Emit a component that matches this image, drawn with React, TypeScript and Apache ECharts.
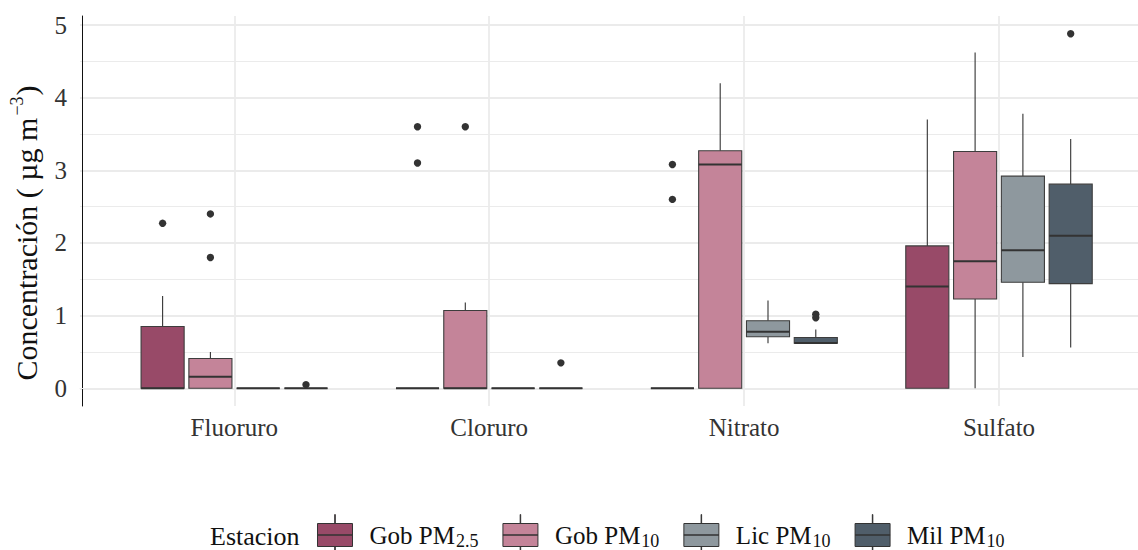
import React, { useEffect, useRef } from 'react';
import * as echarts from 'echarts';

// Anions on the x axis
const categories = ['Fluoruro', 'Cloruro', 'Nitrato', 'Sulfato'];

// Monitoring stations (label + subscript) and their fill colours
const stationBase = ['Gob PM', 'Gob PM', 'Lic PM', 'Mil PM'];
const stationSub = ['2.5', '10', '10', '10'];
const stationColors = ['#984A68', '#C48499', '#8E989E', '#505E6A'];

// Box statistics per anion: [lower whisker, Q1, median, Q3, upper whisker]
const gobPM25Stats = [
  [0, 0, 0, 0.85, 1.27],
  [0, 0, 0, 0, 0],
  [0, 0, 0, 0, 0],
  [0, 0, 1.4, 1.96, 3.7],
];
const gobPM25Outliers = [[2.27], [3.6, 3.1], [3.08, 2.6], []];

const gobPM10Stats = [
  [0, 0, 0.16, 0.41, 0.5],
  [0, 0, 0, 1.07, 1.18],
  [0, 0, 3.08, 3.27, 4.2],
  [0, 1.23, 1.75, 3.26, 4.62],
];
const gobPM10Outliers = [[2.4, 1.8], [3.6], [], []];

const licPM10Stats = [
  [0, 0, 0, 0, 0],
  [0, 0, 0, 0, 0],
  [0.62, 0.71, 0.78, 0.93, 1.21],
  [0.43, 1.46, 1.9, 2.92, 3.78],
];
const licPM10Outliers = [[], [], [], []];

const milPM10Stats = [
  [0, 0, 0, 0, 0],
  [0, 0, 0, 0, 0],
  [0.62, 0.62, 0.625, 0.7, 0.81],
  [0.56, 1.44, 2.1, 2.81, 3.43],
];
const milPM10Outliers = [[0.05], [0.35], [1.02, 0.97], [4.88]];

// y axis ticks
const yTickMin = 0;
const yTickMax = 5;
const yTickStep = 1;

const stationStats = [gobPM25Stats, gobPM10Stats, licPM10Stats, milPM10Stats];
const stationOutliers = [gobPM25Outliers, gobPM10Outliers, licPM10Outliers, milPM10Outliers];

const FONT = "'Liberation Serif', 'Times New Roman', serif";
const W = 1138;
const H = 550;

// panel geometry (pixels)
const AXIS_X = 80;
const PANEL_TOP = 16;
const PANEL_BOTTOM = 406;
const Y_AT_MIN = 388.3;
const Y_AT_MAX = 25;
const FIRST_CAT_X = 232.3;
const LAST_CAT_X = 999;
const PX_PER_UNIT = (Y_AT_MIN - Y_AT_MAX) / (yTickMax - yTickMin);

// dodge layout in category units
const SLOT = 0.1875;
const BOX = 0.169;

const LEGEND_ICON =
  'path://M17.25,0H17.75V9H17.25Z M0,9H35V20.5H0Z M0,20.5H35V32H0Z M17.25,32H17.75V41H17.25Z';

function makeRenderItem(seriesIdx: number) {
  return (params: any, api: any) => {
    const cat = api.value(0);
    const band = api.size([1, 0])[0];
    const cx = api.coord([cat, 0])[0] + (seriesIdx - 1.5) * SLOT * band;
    const half = (BOX * band) / 2;
    const yOf = (v: number) => api.coord([cat, v])[1];
    const lo = yOf(api.value(1));
    const q1 = yOf(api.value(2));
    const med = yOf(api.value(3));
    const q3 = yOf(api.value(4));
    const hi = yOf(api.value(5));
    const stroke = '#333333';
    const children: any[] = [
      {
        type: 'line',
        shape: { x1: cx, y1: q3, x2: cx, y2: hi },
        style: { stroke, lineWidth: 1.1 },
      },
      {
        type: 'line',
        shape: { x1: cx, y1: q1, x2: cx, y2: lo },
        style: { stroke, lineWidth: 1.1 },
      },
      {
        type: 'rect',
        shape: { x: cx - half, y: q3, width: half * 2, height: q1 - q3 },
        style: { fill: stationColors[seriesIdx], stroke: '#3d3d3d', lineWidth: 1.1 },
      },
      {
        type: 'line',
        shape: { x1: cx - half, y1: med, x2: cx + half, y2: med },
        style: { stroke, lineWidth: 2 },
      },
    ];
    const outs = stationOutliers[seriesIdx][params.dataIndex] || [];
    outs.forEach((v: number) => {
      children.push({
        type: 'circle',
        shape: { cx, cy: yOf(v), r: 3.7 },
        style: { fill: '#333333' },
      });
    });
    return { type: 'group', children };
  };
}

export default function App() {
  const ref = useRef<HTMLDivElement>(null);

  useEffect(() => {
    if (!ref.current) return;
    const chart = echarts.init(ref.current, null, { renderer: 'svg' });

    const dataYMin = yTickMin - (PANEL_BOTTOM - Y_AT_MIN) / PX_PER_UNIT;
    const dataYMax = yTickMax + (Y_AT_MAX - PANEL_TOP) / PX_PER_UNIT;

    const series = stationStats.map((stats, s) => ({
      type: 'custom',
      name: stationBase[s] + stationSub[s],
      xAxisIndex: 1,
      yAxisIndex: 1,
      itemStyle: { color: stationColors[s] },
      encode: { x: 0, y: [1, 2, 3, 4, 5] },
      renderItem: makeRenderItem(s),
      data: stats.map((st, i) => [i, ...st]),
    }));

    const option: any = {
      animation: false,
      color: stationColors,
      grid: [
        // background panel: y labels and horizontal grid lines
        {
          left: AXIS_X,
          right: 0,
          top: Y_AT_MAX,
          bottom: H - Y_AT_MIN,
        },
        // data panel: spans first to last category
        {
          left: FIRST_CAT_X,
          right: W - LAST_CAT_X,
          top: PANEL_TOP,
          bottom: H - PANEL_BOTTOM,
        },
      ],
      xAxis: [
        {
          type: 'value',
          gridIndex: 0,
          min: 0,
          max: 1,
          position: 'bottom',
          offset: PANEL_BOTTOM - Y_AT_MIN,
          axisLine: { show: true, lineStyle: { color: '#EBEBEB', width: 1 } },
          axisTick: { show: false },
          axisLabel: { show: false },
          splitLine: { show: false },
        },
        {
          type: 'category',
          gridIndex: 1,
          data: categories,
          boundaryGap: false,
          axisLine: { show: false },
          axisTick: { show: false },
          axisLabel: {
            interval: 0,
            margin: 9,
            fontFamily: FONT,
            fontSize: 25,
            color: '#333333',
          },
          splitLine: {
            show: true,
            interval: 0,
            lineStyle: { color: '#EBEBEB', width: 1.8 },
          },
        },
      ],
      yAxis: [
        {
          type: 'value',
          gridIndex: 0,
          min: yTickMin,
          max: yTickMax,
          interval: yTickStep,
          axisLine: { show: false },
          axisTick: { show: false },
          axisLabel: {
            margin: 13,
            fontFamily: FONT,
            fontSize: 25,
            color: '#333333',
          },
          splitLine: { show: true, lineStyle: { color: '#EBEBEB', width: 1.8 } },
          minorTick: { show: false, splitNumber: 2 },
          minorSplitLine: { show: true, lineStyle: { color: '#EBEBEB', width: 1 } },
        },
        {
          type: 'value',
          gridIndex: 1,
          min: dataYMin,
          max: dataYMax,
          offset: FIRST_CAT_X - AXIS_X,
          axisLine: { show: true, lineStyle: { color: '#111111', width: 1 } },
          axisTick: { show: false },
          axisLabel: { show: false },
          splitLine: { show: false },
          name: '{m|Concentración ( µg m}{sup|−3}{m|)}',
          nameLocation: 'middle',
          nameRotate: 90,
          nameGap: 41,
          nameTextStyle: {
            fontFamily: FONT,
            fontSize: 30,
            color: '#111111',
            padding: [0, 44, 0, 0],
            rich: {
              m: {
                fontFamily: FONT,
                fontSize: 30,
                lineHeight: 30,
                color: '#111111',
                verticalAlign: 'middle',
              },
              sup: {
                fontFamily: FONT,
                fontSize: 18,
                lineHeight: 18,
                color: '#111111',
                verticalAlign: 'middle',
                padding: [0, 1, 18, 2],
              },
            },
          },
        },
      ],
      legend: {
        left: 317,
        top: 514,
        padding: 0,
        orient: 'horizontal',
        itemWidth: 35,
        itemHeight: 41,
        itemGap: 24,
        icon: LEGEND_ICON,
        selectedMode: false,
        itemStyle: { borderColor: '#333333', borderWidth: 1 },
        data: stationBase.map((b, i) => b + stationSub[i]),
        formatter: (name: string) => {
          const i = stationBase.findIndex((b, k) => b + stationSub[k] === name);
          return `{n|${stationBase[i]}}{s|${stationSub[i]}}`;
        },
        textStyle: {
          fontFamily: FONT,
          fontSize: 25,
          color: '#111111',
          padding: [0, 0, 0, 12],
          rich: {
            n: {
              fontFamily: FONT,
              fontSize: 25,
              lineHeight: 26,
              color: '#111111',
              verticalAlign: 'middle',
            },
            s: {
              fontFamily: FONT,
              fontSize: 18,
              lineHeight: 18,
              color: '#111111',
              verticalAlign: 'middle',
              padding: [11, 0, 0, 1],
            },
          },
        },
      },
      graphic: [
        {
          type: 'text',
          x: 210,
          y: 536,
          style: {
            text: 'Estacion',
            fontFamily: FONT,
            fontSize: 26,
            fill: '#111111',
            align: 'left',
            verticalAlign: 'middle',
          },
        },
      ],
      series,
    };

    chart.setOption(option);
    return () => chart.dispose();
  }, []);

  return (
    <div
      ref={ref}
      style={{ position: 'fixed', left: 0, top: 0, width: W, height: H, background: '#ffffff' }}
    />
  );
}
